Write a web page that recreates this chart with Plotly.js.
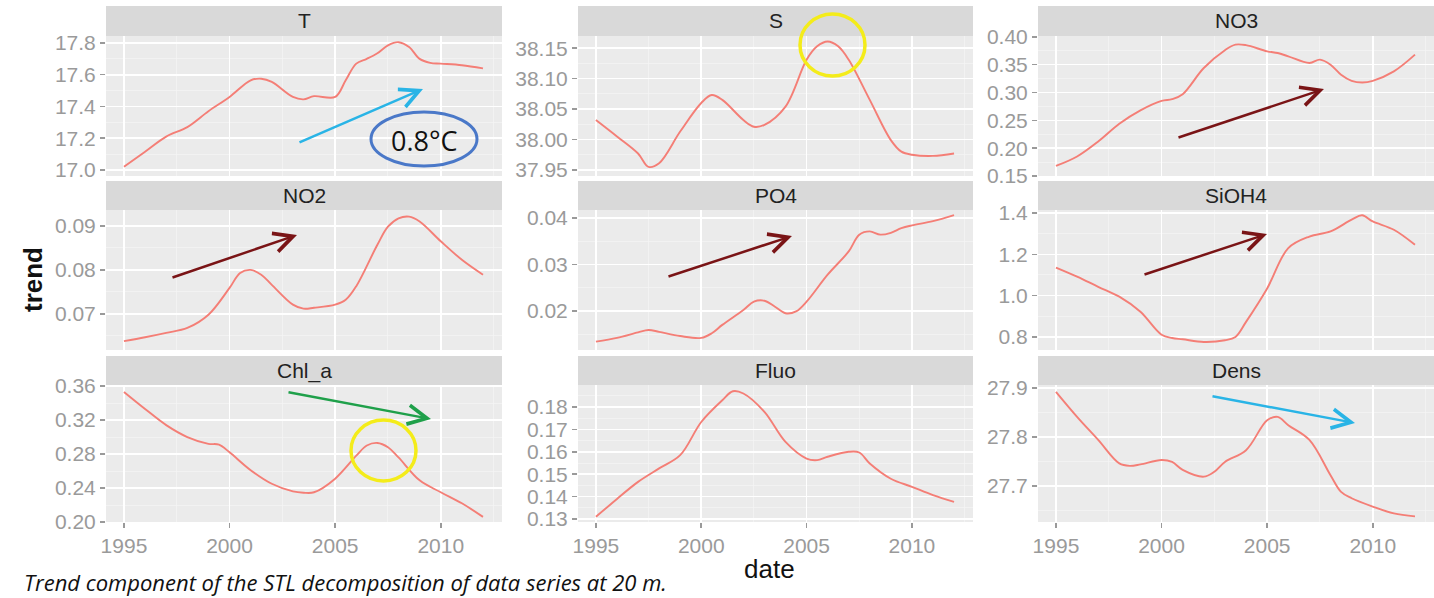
<!DOCTYPE html>
<html>
<head>
<meta charset="utf-8">
<script src="https://cdn.plot.ly/plotly-3.0.1.min.js"></script>
<style>html,body{margin:0;padding:0;background:#fff}#chart{width:1434px;height:598px}</style>
</head>
<body>
<div id="chart"></div>
<script>
// ---- Data ----
const panelNames = ["T", "S", "NO3", "NO2", "PO4", "SiOH4", "Chl_a", "Fluo", "Dens"];
const xTickVals = [1995, 2000, 2005, 2010];

const tYears = [1995,1996,1997,1998,1999,2000,2001,2001.5,2002,2003,2003.5,2004,2005,2005.5,2006,2006.5,2007,2007.5,2008,2008.5,2009,2009.5,2010,2011,2012];
const tValues = [17.02,17.115,17.21,17.27,17.37,17.46,17.565,17.575,17.555,17.46,17.445,17.465,17.46,17.565,17.67,17.70,17.735,17.785,17.805,17.775,17.70,17.675,17.67,17.66,17.64];

const sYears = [1995,1996,1997,1997.5,1998,1999,2000,2000.5,2001,2002,2002.5,2003,2004,2005,2005.5,2006,2006.5,2007,2008,2009,2009.5,2010,2011,2012];
const sValues = [38.032,38.005,37.977,37.955,37.961,38.013,38.060,38.073,38.065,38.032,38.021,38.024,38.054,38.131,38.153,38.161,38.153,38.131,38.065,37.999,37.980,37.975,37.973,37.977];

const no3Years = [1995,1996,1997,1998,1999,2000,2000.5,2001,2002,2003,2003.5,2004,2005,2005.5,2006,2007,2007.5,2008,2008.5,2009,2009.5,2010,2011,2012];
const no3Values = [0.168,0.185,0.212,0.244,0.268,0.285,0.288,0.297,0.344,0.376,0.386,0.385,0.374,0.371,0.365,0.353,0.359,0.350,0.332,0.321,0.318,0.321,0.338,0.368];

const no2Years = [1995,1996,1997,1998,1999,2000,2000.5,2001,2001.5,2002,2003,2003.5,2004,2005,2005.5,2006,2007,2007.5,2008,2008.5,2009,2010,2011,2012];
const no2Values = [0.0638,0.0647,0.0657,0.0668,0.0698,0.0759,0.0793,0.0800,0.0789,0.0766,0.0721,0.0712,0.0714,0.0721,0.0732,0.0763,0.0857,0.0898,0.0917,0.0921,0.0910,0.0865,0.0823,0.0789];

const po4Years = [1995,1996,1997,1997.5,1998,1999,2000,2000.5,2001,2002,2002.5,2003,2003.5,2004,2004.5,2005,2006,2007,2007.5,2008,2008.5,2009,2009.5,2010,2011,2012];
const po4Values = [0.0134,0.0142,0.0154,0.0159,0.0155,0.0146,0.0142,0.0152,0.0170,0.0202,0.0220,0.0222,0.0209,0.0195,0.0199,0.0220,0.0278,0.0328,0.0364,0.0371,0.0364,0.0368,0.0378,0.0384,0.0393,0.0406];

const sioh4Years = [1995,1996,1997,1998,1999,2000,2000.5,2001,2002,2003,2003.5,2004,2005,2006,2007,2008,2009,2009.5,2010,2011,2012];
const sioh4Values = [1.136,1.092,1.043,0.995,0.922,0.811,0.795,0.789,0.776,0.784,0.800,0.873,1.035,1.230,1.286,1.311,1.368,1.389,1.359,1.319,1.246];

const chlYears = [1995,1996,1997,1998,1999,1999.5,2000,2001,2002,2003,2003.5,2004,2005,2006,2006.5,2007,2007.5,2008,2009,2010,2011,2012];
const chlValues = [0.353,0.333,0.314,0.300,0.292,0.291,0.282,0.261,0.245,0.236,0.2345,0.235,0.251,0.278,0.290,0.293,0.288,0.276,0.249,0.235,0.222,0.206];

const fluoYears = [1995,1996,1997,1998,1999,2000,2001,2001.5,2002,2003,2004,2005,2005.5,2006,2007,2007.5,2008,2009,2010,2011,2012];
const fluoValues = [0.131,0.139,0.1466,0.1526,0.1585,0.1733,0.183,0.187,0.186,0.1778,0.1644,0.157,0.1563,0.1578,0.160,0.1597,0.1548,0.148,0.1444,0.1407,0.1377];

const densYears = [1995,1996,1997,1998,1998.5,1999,2000,2000.5,2001,2002,2002.5,2003,2004,2005,2005.5,2006,2007,2008,2008.5,2009,2010,2011,2012];
const densValues = [27.892,27.841,27.794,27.746,27.741,27.744,27.753,27.749,27.733,27.719,27.729,27.749,27.773,27.834,27.841,27.824,27.794,27.722,27.688,27.675,27.658,27.644,27.638];

const seriesYears = [tYears, sYears, no3Years, no2Years, po4Years, sioh4Years, chlYears, fluoYears, densYears];
const seriesValues = [tValues, sValues, no3Values, no2Values, po4Values, sioh4Values, chlValues, fluoValues, densValues];

// ---- Layout / styling ----
const W = 1434, H = 598;
const px = v => v / W;
const py = v => 1 - v / H;
const colPx = [[106, 502], [578, 973], [1038, 1434]];
const rowPx = [[36, 176], [210, 350], [385, 522]];
const stripPx = [[6, 36], [181, 210], [356, 385]];

const yRanges = [[16.962,17.844],[37.940,38.170],[0.150,0.4015],[0.0618,0.0936],[0.0116,0.0417],[0.737,1.4145],[0.200,0.3612],[0.1287,0.1898],[27.6265,27.906]];
const yDticks = [0.2,0.05,0.05,0.01,0.01,0.2,0.04,0.01,0.1];
const yFormats = ['.1f','.2f','.2f','.2f','.2f','.1f','.2f','.2f','.1f'];

const tickFont = {family: 'Liberation Sans, Arial, sans-serif', size: 21, color: '#9a9a9a'};
const traces = [];
const layout = {
  width: W, height: H,
  margin: {l: 0, r: 0, t: 0, b: 0},
  paper_bgcolor: '#ffffff',
  plot_bgcolor: '#EBEBEB',
  showlegend: false,
  shapes: [], annotations: []
};

for (let i = 0; i < 9; i++) {
  const r = Math.floor(i / 3), c = i % 3;
  const sfx = i === 0 ? '' : String(i + 1);
  traces.push({
    x: seriesYears[i], y: seriesValues[i], type: 'scatter', mode: 'lines',
    xaxis: 'x' + sfx, yaxis: 'y' + sfx,
    line: {color: '#F47E76', width: 1.9, shape: 'spline', smoothing: 1},
    hoverinfo: 'skip'
  });
  const bottom = r === 2;
  layout['xaxis' + sfx] = {
    domain: [px(colPx[c][0]), px(colPx[c][1])],
    anchor: 'y' + sfx,
    range: [1994.15, 2012.9],
    tickmode: 'array', tickvals: xTickVals,
    ticktext: xTickVals.map(String),
    showticklabels: bottom,
    ticks: bottom ? 'outside' : '', ticklen: 5, tickwidth: 1.5, tickcolor: '#9a9a9a',
    tickfont: tickFont,
    showgrid: true, gridcolor: '#ffffff', gridwidth: 1.6,
    minor: {tickvals: [1997.5, 2002.5, 2007.5, 2012.5], showgrid: true, gridcolor: '#F4F4F4', gridwidth: 0.8, ticks: ''},
    zeroline: false, showline: false, fixedrange: true
  };
  layout['yaxis' + sfx] = {
    domain: [py(rowPx[r][1]), py(rowPx[r][0])],
    anchor: 'x' + sfx,
    range: yRanges[i],
    dtick: yDticks[i], tick0: 0, tickformat: yFormats[i],
    ticks: 'outside', ticklen: 5, tickwidth: 1.5, tickcolor: '#9a9a9a',
    tickfont: tickFont,
    showgrid: true, gridcolor: '#ffffff', gridwidth: 1.6,
    minor: {dtick: yDticks[i] / 2, showgrid: true, gridcolor: '#F4F4F4', gridwidth: 0.8, ticks: ''},
    zeroline: false, showline: false, fixedrange: true
  };
  // strip
  layout.shapes.push({
    type: 'rect', xref: 'paper', yref: 'paper', layer: 'below',
    x0: px(colPx[c][0]), x1: px(colPx[c][1]),
    y0: py(stripPx[r][1]), y1: py(stripPx[r][0]),
    fillcolor: '#D9D9D9', line: {width: 0}
  });
  layout.annotations.push({
    xref: 'paper', yref: 'paper',
    x: px((colPx[c][0] + colPx[c][1]) / 2), y: py((stripPx[r][0] + stripPx[r][1]) / 2),
    text: panelNames[i], showarrow: false, xanchor: 'center', yanchor: 'middle',
    font: {family: 'Liberation Sans, Arial, sans-serif', size: 21, color: '#222222'}
  });
}

// axis titles and caption
layout.annotations.push({
  xref: 'paper', yref: 'paper', x: px(33), y: py(280), text: '<b>trend</b>', textangle: -90,
  showarrow: false, xanchor: 'center', yanchor: 'middle',
  font: {family: 'Liberation Sans, Arial, sans-serif', size: 26, color: '#111111'}
});
layout.annotations.push({
  xref: 'paper', yref: 'paper', x: px(769), y: py(569), text: 'date',
  showarrow: false, xanchor: 'center', yanchor: 'middle',
  font: {family: 'Liberation Sans, Arial, sans-serif', size: 26, color: '#111111'}
});
layout.annotations.push({
  xref: 'paper', yref: 'paper', x: px(22), y: py(582), text: '<i>Trend component of the STL decomposition of data series at 20 m.</i>',
  showarrow: false, xanchor: 'left', yanchor: 'middle',
  font: {family: 'Open Sans, sans-serif', size: 22, color: '#111111'}
});

// hand-drawn decorations: arrows (tail px, head px, colour)
const arrows = [
  [[298,143],[423,89],'#29B4E6'],
  [[1177,138],[1324,89],'#7A1416'],
  [[171,278],[297,235],'#7A1416'],
  [[667,277],[792,236],'#7A1416'],
  [[1143,275],[1267,234],'#7A1416'],
  [[287,392],[431,419],'#1FA04A'],
  [[1211,396],[1355,423],'#29B4E6']
];
arrows.forEach(a => {
  layout.annotations.push({
    xref: 'paper', yref: 'paper', x: px(a[1][0]), y: py(a[1][1]),
    axref: 'pixel', ayref: 'pixel', ax: a[0][0] - a[1][0], ay: a[0][1] - a[1][1],
    text: '', showarrow: true, arrowhead: 5, arrowsize: 1.5, arrowwidth: 2.5, arrowcolor: a[2], standoff: 0
  });
});
// ellipse with 0.8°C
layout.shapes.push({type: 'circle', xref: 'paper', yref: 'paper', x0: px(371), x1: px(477), y0: py(166), y1: py(112), line: {color: '#4A78C8', width: 3}, layer: 'above'});
layout.annotations.push({xref: 'paper', yref: 'paper', x: px(424), y: py(140), text: '0.8°C', showarrow: false, xanchor: 'center', yanchor: 'middle', font: {family: 'Open Sans, sans-serif', size: 27, color: '#111111'}});
// yellow circles
layout.shapes.push({type: 'circle', xref: 'paper', yref: 'paper', x0: px(800), x1: px(865), y0: py(76), y1: py(14), line: {color: '#F4EC1A', width: 3.5}, layer: 'above'});
layout.shapes.push({type: 'circle', xref: 'paper', yref: 'paper', x0: px(351), x1: px(416), y0: py(481), y1: py(420), line: {color: '#F4EC1A', width: 3.5}, layer: 'above'});

Plotly.newPlot('chart', traces, layout, {displayModeBar: false, staticPlot: true});
</script>
</body>
</html>
